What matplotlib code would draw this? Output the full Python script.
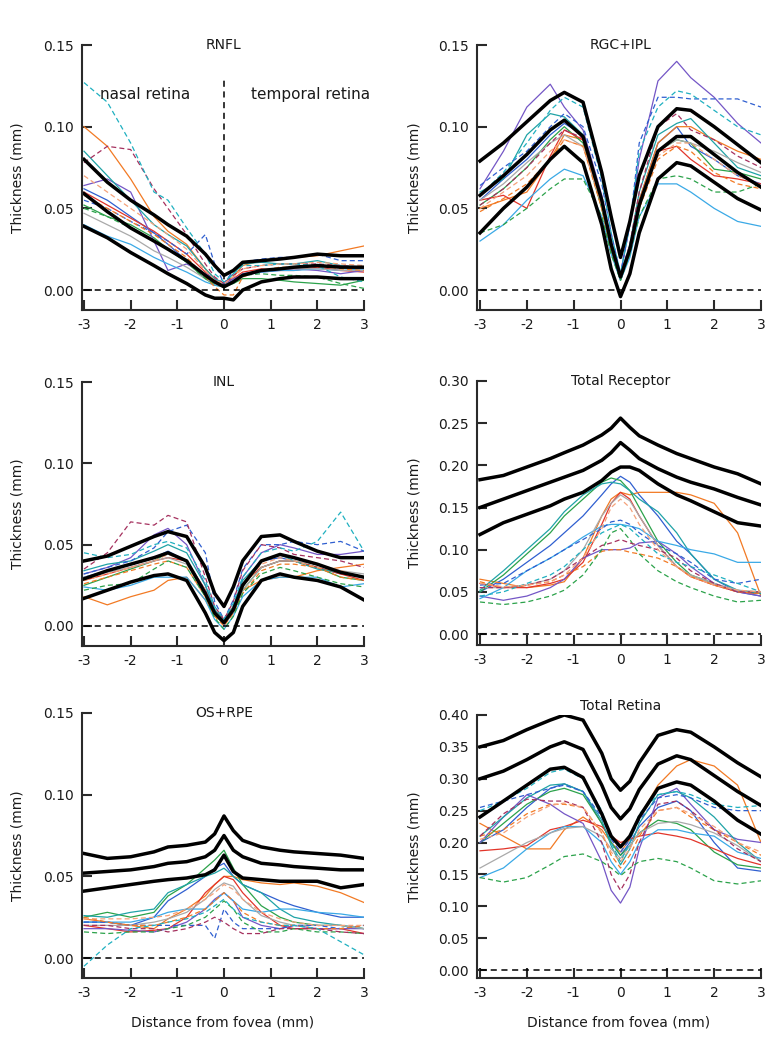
import matplotlib
matplotlib.use('Agg')
import matplotlib.pyplot as plt

plt.rcParams['font.family'] = ['DejaVu Sans']
plt.rcParams['axes.unicode_minus'] = False

# distance from fovea (mm), shared sample points
X = [-3, -2.5, -2, -1.5, -1.2, -0.8, -0.4, -0.2, 0, 0.2, 0.4, 0.8, 1.2, 1.5, 2, 2.5, 3]

# subject line styles (colour, dashed?)
subj_colors = ['#2f5fd0', '#f27a24', '#2ba24a', '#e2352a', '#7456c6', '#1fa3a6', '#3aa9e6', '#a9a9a9',
               '#2f5fd0', '#f27a24', '#2ba24a', '#a5305e', '#1fb0c0', '#f5a27a']
subj_dashed = [False] * 8 + [True] * 6

# ---- RNFL
rnfl_upper = [0.080, 0.066, 0.055, 0.046, 0.040, 0.033, 0.022, 0.015, 0.009, 0.012, 0.017, 0.018, 0.019, 0.020, 0.022, 0.021, 0.021]
rnfl_mean = [0.059, 0.048, 0.038, 0.030, 0.025, 0.018, 0.009, 0.005, 0.002, 0.005, 0.009, 0.012, 0.013, 0.014, 0.015, 0.014, 0.014]
rnfl_lower = [0.039, 0.032, 0.023, 0.015, 0.010, 0.004, -0.003, -0.005, -0.005, -0.006, 0.000, 0.005, 0.007, 0.008, 0.008, 0.007, 0.007]
rnfl_subj = [
    [0.062, 0.055, 0.045, 0.035, 0.028, 0.018, 0.009, 0.005, 0.003, 0.006, 0.010, 0.012, 0.013, 0.014, 0.015, 0.014, 0.013],
    [0.100, 0.088, 0.068, 0.045, 0.036, 0.028, 0.013, 0.007, 0.004, 0.008, 0.015, 0.018, 0.019, 0.020, 0.021, 0.024, 0.027],
    [0.052, 0.045, 0.040, 0.032, 0.025, 0.017, 0.007, 0.003, 0.002, 0.004, 0.007, 0.007, 0.006, 0.005, 0.004, 0.003, 0.006],
    [0.060, 0.052, 0.044, 0.036, 0.030, 0.022, 0.011, 0.006, 0.004, 0.007, 0.011, 0.013, 0.012, 0.012, 0.014, 0.012, 0.011],
    [0.064, 0.068, 0.060, 0.030, 0.012, 0.016, 0.010, 0.007, 0.004, 0.007, 0.009, 0.011, 0.012, 0.013, 0.012, 0.010, 0.012],
    [0.085, 0.070, 0.055, 0.040, 0.034, 0.027, 0.013, 0.007, 0.004, 0.010, 0.016, 0.017, 0.016, 0.016, 0.018, 0.015, 0.014],
    [0.040, 0.033, 0.028, 0.020, 0.016, 0.011, 0.005, 0.003, 0.002, 0.005, 0.009, 0.011, 0.012, 0.012, 0.013, 0.012, 0.013],
    [0.047, 0.040, 0.033, 0.024, 0.020, 0.014, 0.007, 0.004, 0.002, 0.005, 0.009, 0.012, 0.013, 0.013, 0.013, 0.012, 0.012],
    [0.055, 0.050, 0.042, 0.035, 0.030, 0.022, 0.034, 0.016, 0.004, 0.012, 0.017, 0.019, 0.020, 0.020, 0.022, 0.018, 0.018],
    [0.058, 0.050, 0.042, 0.034, 0.028, 0.020, 0.008, 0.002, -0.003, -0.003, 0.008, 0.012, 0.014, 0.014, 0.015, 0.013, 0.012],
    [0.050, 0.045, 0.038, 0.030, 0.025, 0.017, 0.007, 0.004, 0.003, 0.005, 0.009, 0.010, 0.009, 0.009, 0.008, 0.004, 0.001],
    [0.078, 0.088, 0.086, 0.062, 0.050, 0.034, 0.016, 0.008, 0.004, 0.009, 0.013, 0.015, 0.016, 0.016, 0.016, 0.015, 0.014],
    [0.127, 0.115, 0.090, 0.060, 0.055, 0.038, 0.022, 0.010, 0.005, 0.010, 0.015, 0.015, 0.016, 0.016, 0.015, 0.008, 0.005],
    [0.070, 0.060, 0.050, 0.040, 0.034, 0.025, 0.012, 0.006, 0.004, 0.008, 0.013, 0.015, 0.016, 0.016, 0.017, 0.016, 0.015],
]

# ---- RGC+IPL
rgc_upper = [0.079, 0.090, 0.103, 0.116, 0.121, 0.115, 0.072, 0.045, 0.020, 0.042, 0.070, 0.100, 0.111, 0.110, 0.100, 0.089, 0.078]
rgc_mean = [0.058, 0.070, 0.083, 0.098, 0.104, 0.094, 0.055, 0.028, 0.008, 0.025, 0.052, 0.085, 0.094, 0.094, 0.083, 0.072, 0.063]
rgc_lower = [0.035, 0.050, 0.063, 0.080, 0.088, 0.078, 0.040, 0.013, -0.004, 0.010, 0.035, 0.068, 0.078, 0.076, 0.066, 0.056, 0.049]
rgc_subj = [
    [0.055, 0.068, 0.080, 0.095, 0.102, 0.095, 0.055, 0.028, 0.008, 0.025, 0.055, 0.090, 0.100, 0.088, 0.080, 0.070, 0.065],
    [0.050, 0.055, 0.060, 0.080, 0.095, 0.092, 0.050, 0.025, 0.006, 0.025, 0.055, 0.090, 0.100, 0.100, 0.092, 0.085, 0.080],
    [0.052, 0.062, 0.075, 0.092, 0.100, 0.090, 0.050, 0.024, 0.006, 0.022, 0.050, 0.085, 0.092, 0.090, 0.074, 0.072, 0.068],
    [0.055, 0.058, 0.050, 0.082, 0.098, 0.092, 0.052, 0.026, 0.007, 0.024, 0.052, 0.085, 0.088, 0.080, 0.070, 0.068, 0.065],
    [0.062, 0.085, 0.112, 0.126, 0.112, 0.098, 0.058, 0.030, 0.010, 0.040, 0.080, 0.128, 0.140, 0.130, 0.118, 0.102, 0.090],
    [0.060, 0.068, 0.095, 0.108, 0.106, 0.095, 0.055, 0.028, 0.009, 0.028, 0.060, 0.095, 0.102, 0.105, 0.090, 0.075, 0.070],
    [0.030, 0.040, 0.055, 0.068, 0.074, 0.070, 0.045, 0.022, 0.006, 0.020, 0.045, 0.065, 0.065, 0.060, 0.050, 0.042, 0.039],
    [0.055, 0.065, 0.078, 0.090, 0.095, 0.088, 0.052, 0.026, 0.008, 0.024, 0.052, 0.085, 0.092, 0.090, 0.085, 0.078, 0.072],
    [0.064, 0.075, 0.085, 0.100, 0.108, 0.100, 0.065, 0.035, 0.010, 0.040, 0.090, 0.118, 0.118, 0.117, 0.117, 0.117, 0.112],
    [0.048, 0.056, 0.065, 0.080, 0.092, 0.088, 0.050, 0.025, 0.008, 0.024, 0.050, 0.080, 0.088, 0.085, 0.072, 0.065, 0.062],
    [0.035, 0.040, 0.050, 0.062, 0.068, 0.068, 0.045, 0.022, 0.006, 0.022, 0.045, 0.068, 0.070, 0.068, 0.060, 0.060, 0.065],
    [0.052, 0.062, 0.075, 0.090, 0.098, 0.093, 0.055, 0.028, 0.009, 0.028, 0.060, 0.100, 0.108, 0.098, 0.092, 0.082, 0.075],
    [0.058, 0.072, 0.090, 0.110, 0.118, 0.112, 0.068, 0.035, 0.010, 0.040, 0.085, 0.112, 0.122, 0.120, 0.110, 0.100, 0.095],
    [0.050, 0.060, 0.070, 0.085, 0.092, 0.088, 0.052, 0.026, 0.008, 0.025, 0.052, 0.082, 0.090, 0.090, 0.080, 0.070, 0.064],
]

# ---- INL
inl_upper = [0.040, 0.043, 0.049, 0.055, 0.058, 0.055, 0.036, 0.020, 0.012, 0.024, 0.040, 0.055, 0.056, 0.052, 0.046, 0.042, 0.042]
inl_mean = [0.029, 0.034, 0.038, 0.042, 0.045, 0.040, 0.020, 0.008, 0.002, 0.010, 0.025, 0.040, 0.044, 0.042, 0.038, 0.033, 0.030]
inl_lower = [0.017, 0.022, 0.027, 0.031, 0.032, 0.028, 0.008, -0.004, -0.009, -0.004, 0.012, 0.028, 0.032, 0.030, 0.028, 0.024, 0.016]
inl_subj = [
    [0.030, 0.034, 0.038, 0.042, 0.046, 0.040, 0.022, 0.008, 0.002, 0.010, 0.025, 0.040, 0.042, 0.040, 0.036, 0.032, 0.030],
    [0.018, 0.013, 0.018, 0.022, 0.028, 0.030, 0.016, 0.006, 0.003, 0.010, 0.022, 0.028, 0.030, 0.030, 0.034, 0.036, 0.038],
    [0.025, 0.030, 0.035, 0.040, 0.045, 0.040, 0.020, 0.007, 0.001, 0.008, 0.022, 0.036, 0.040, 0.040, 0.036, 0.030, 0.028],
    [0.028, 0.032, 0.036, 0.040, 0.042, 0.040, 0.022, 0.010, 0.004, 0.012, 0.026, 0.036, 0.040, 0.040, 0.036, 0.032, 0.028],
    [0.032, 0.036, 0.042, 0.056, 0.060, 0.050, 0.025, 0.010, 0.000, 0.010, 0.030, 0.045, 0.050, 0.048, 0.044, 0.044, 0.046],
    [0.034, 0.038, 0.040, 0.046, 0.050, 0.045, 0.025, 0.010, 0.003, 0.012, 0.028, 0.040, 0.044, 0.040, 0.035, 0.033, 0.030],
    [0.024, 0.022, 0.025, 0.030, 0.030, 0.030, 0.016, 0.004, -0.002, 0.006, 0.018, 0.028, 0.030, 0.030, 0.030, 0.024, 0.026],
    [0.030, 0.033, 0.036, 0.040, 0.042, 0.038, 0.020, 0.007, 0.001, 0.008, 0.022, 0.036, 0.040, 0.040, 0.038, 0.034, 0.032],
    [0.032, 0.036, 0.040, 0.048, 0.058, 0.062, 0.045, 0.015, 0.004, 0.016, 0.035, 0.050, 0.050, 0.052, 0.050, 0.052, 0.046],
    [0.026, 0.030, 0.034, 0.038, 0.040, 0.036, 0.018, 0.006, 0.000, 0.008, 0.020, 0.034, 0.038, 0.038, 0.036, 0.030, 0.028],
    [0.022, 0.025, 0.026, 0.035, 0.040, 0.036, 0.018, 0.005, -0.002, 0.006, 0.020, 0.032, 0.036, 0.034, 0.030, 0.026, 0.024],
    [0.035, 0.045, 0.064, 0.062, 0.068, 0.064, 0.030, 0.012, 0.004, 0.015, 0.034, 0.050, 0.048, 0.044, 0.042, 0.040, 0.036],
    [0.045, 0.042, 0.044, 0.050, 0.052, 0.048, 0.028, 0.012, 0.004, 0.014, 0.030, 0.045, 0.048, 0.046, 0.052, 0.070, 0.046],
    [0.028, 0.032, 0.036, 0.040, 0.044, 0.040, 0.022, 0.008, 0.002, 0.010, 0.024, 0.038, 0.042, 0.040, 0.036, 0.034, 0.030],
]

# ---- Total Receptor
rec_upper = [0.183, 0.188, 0.198, 0.208, 0.215, 0.224, 0.236, 0.244, 0.256, 0.245, 0.235, 0.224, 0.214, 0.208, 0.198, 0.190, 0.178]
rec_mean = [0.150, 0.160, 0.170, 0.180, 0.186, 0.194, 0.206, 0.215, 0.227, 0.218, 0.208, 0.196, 0.186, 0.180, 0.172, 0.162, 0.153]
rec_lower = [0.118, 0.132, 0.142, 0.152, 0.160, 0.168, 0.182, 0.192, 0.198, 0.198, 0.194, 0.178, 0.165, 0.158, 0.145, 0.132, 0.128]
rec_subj = [
    [0.050, 0.065, 0.085, 0.105, 0.120, 0.140, 0.165, 0.178, 0.187, 0.180, 0.165, 0.140, 0.110, 0.095, 0.065, 0.050, 0.045],
    [0.065, 0.060, 0.055, 0.058, 0.062, 0.090, 0.140, 0.160, 0.168, 0.165, 0.168, 0.168, 0.168, 0.165, 0.155, 0.120, 0.045],
    [0.050, 0.070, 0.095, 0.120, 0.140, 0.160, 0.180, 0.185, 0.182, 0.170, 0.150, 0.110, 0.085, 0.070, 0.060, 0.050, 0.048],
    [0.060, 0.055, 0.055, 0.060, 0.065, 0.085, 0.130, 0.155, 0.168, 0.160, 0.140, 0.105, 0.080, 0.068, 0.058, 0.050, 0.048],
    [0.045, 0.040, 0.045, 0.055, 0.065, 0.090, 0.100, 0.100, 0.100, 0.102, 0.108, 0.110, 0.095, 0.080, 0.060, 0.050, 0.045],
    [0.052, 0.075, 0.100, 0.125, 0.145, 0.165, 0.178, 0.180, 0.178, 0.170, 0.160, 0.145, 0.120, 0.095, 0.065, 0.052, 0.048],
    [0.042, 0.055, 0.075, 0.090, 0.100, 0.115, 0.128, 0.130, 0.130, 0.128, 0.125, 0.110, 0.105, 0.100, 0.095, 0.085, 0.085],
    [0.055, 0.055, 0.058, 0.065, 0.075, 0.100, 0.140, 0.155, 0.165, 0.158, 0.140, 0.105, 0.080, 0.070, 0.060, 0.052, 0.050],
    [0.058, 0.060, 0.075, 0.090, 0.100, 0.112, 0.125, 0.133, 0.135, 0.130, 0.120, 0.105, 0.095, 0.085, 0.065, 0.060, 0.065],
    [0.062, 0.055, 0.058, 0.062, 0.070, 0.080, 0.098, 0.100, 0.100, 0.097, 0.095, 0.090, 0.080, 0.068, 0.058, 0.050, 0.048],
    [0.038, 0.035, 0.038, 0.045, 0.052, 0.070, 0.100, 0.120, 0.125, 0.112, 0.095, 0.075, 0.062, 0.055, 0.045, 0.038, 0.040],
    [0.055, 0.055, 0.058, 0.065, 0.075, 0.090, 0.105, 0.108, 0.112, 0.108, 0.105, 0.100, 0.090, 0.075, 0.060, 0.050, 0.050],
    [0.045, 0.050, 0.060, 0.070, 0.080, 0.100, 0.120, 0.125, 0.130, 0.125, 0.115, 0.095, 0.085, 0.080, 0.070, 0.060, 0.050],
    [0.060, 0.056, 0.058, 0.062, 0.070, 0.090, 0.125, 0.150, 0.160, 0.150, 0.130, 0.100, 0.080, 0.068, 0.058, 0.052, 0.050],
]

# ---- OS+RPE
os_upper = [0.064, 0.061, 0.062, 0.065, 0.068, 0.069, 0.071, 0.076, 0.087, 0.078, 0.072, 0.068, 0.066, 0.065, 0.064, 0.063, 0.061]
os_mean = [0.052, 0.053, 0.054, 0.056, 0.058, 0.059, 0.062, 0.066, 0.075, 0.066, 0.062, 0.058, 0.057, 0.056, 0.055, 0.054, 0.054]
os_lower = [0.041, 0.043, 0.045, 0.047, 0.048, 0.049, 0.051, 0.054, 0.063, 0.053, 0.049, 0.048, 0.047, 0.047, 0.047, 0.043, 0.045]
os_subj = [
    [0.022, 0.022, 0.020, 0.025, 0.035, 0.042, 0.050, 0.055, 0.058, 0.050, 0.045, 0.040, 0.035, 0.032, 0.028, 0.025, 0.025],
    [0.024, 0.022, 0.020, 0.018, 0.024, 0.030, 0.038, 0.045, 0.050, 0.050, 0.048, 0.046, 0.045, 0.046, 0.044, 0.040, 0.034],
    [0.025, 0.028, 0.025, 0.028, 0.038, 0.045, 0.055, 0.060, 0.066, 0.055, 0.045, 0.032, 0.025, 0.022, 0.020, 0.020, 0.018],
    [0.020, 0.018, 0.016, 0.017, 0.018, 0.025, 0.040, 0.045, 0.050, 0.048, 0.040, 0.028, 0.020, 0.018, 0.018, 0.018, 0.015],
    [0.018, 0.018, 0.017, 0.016, 0.018, 0.022, 0.030, 0.036, 0.040, 0.035, 0.025, 0.020, 0.018, 0.020, 0.018, 0.018, 0.018],
    [0.026, 0.025, 0.028, 0.030, 0.040, 0.045, 0.050, 0.052, 0.055, 0.050, 0.045, 0.040, 0.030, 0.025, 0.022, 0.020, 0.018],
    [0.022, 0.022, 0.022, 0.025, 0.028, 0.030, 0.030, 0.035, 0.040, 0.035, 0.030, 0.028, 0.030, 0.030, 0.028, 0.027, 0.025],
    [0.020, 0.020, 0.020, 0.022, 0.024, 0.028, 0.036, 0.042, 0.046, 0.044, 0.036, 0.026, 0.022, 0.020, 0.020, 0.020, 0.018],
    [0.022, 0.022, 0.020, 0.020, 0.020, 0.020, 0.020, 0.012, 0.030, 0.022, 0.018, 0.018, 0.018, 0.020, 0.020, 0.018, 0.020],
    [0.025, 0.022, 0.020, 0.020, 0.022, 0.025, 0.030, 0.035, 0.040, 0.035, 0.028, 0.022, 0.020, 0.020, 0.018, 0.018, 0.020],
    [0.016, 0.015, 0.016, 0.016, 0.018, 0.020, 0.025, 0.030, 0.035, 0.030, 0.022, 0.016, 0.016, 0.018, 0.016, 0.016, 0.015],
    [0.020, 0.020, 0.018, 0.018, 0.016, 0.018, 0.022, 0.025, 0.022, 0.018, 0.015, 0.015, 0.018, 0.018, 0.018, 0.016, 0.015],
    [-0.005, 0.008, 0.018, 0.020, 0.022, 0.024, 0.028, 0.032, 0.036, 0.030, 0.025, 0.022, 0.020, 0.020, 0.018, 0.010, 0.002],
    [0.024, 0.024, 0.024, 0.025, 0.026, 0.030, 0.036, 0.040, 0.045, 0.042, 0.036, 0.028, 0.024, 0.022, 0.020, 0.020, 0.020],
]

# ---- Total Retina
ret_upper = [0.350, 0.360, 0.377, 0.392, 0.400, 0.392, 0.340, 0.300, 0.282, 0.296, 0.325, 0.368, 0.377, 0.373, 0.350, 0.325, 0.303]
ret_mean = [0.300, 0.312, 0.330, 0.350, 0.358, 0.346, 0.290, 0.255, 0.237, 0.253, 0.283, 0.323, 0.336, 0.330, 0.305, 0.280, 0.258]
ret_lower = [0.240, 0.265, 0.290, 0.315, 0.318, 0.302, 0.245, 0.210, 0.193, 0.210, 0.240, 0.285, 0.295, 0.290, 0.265, 0.235, 0.213]
ret_subj = [
    [0.200, 0.220, 0.255, 0.285, 0.292, 0.280, 0.230, 0.200, 0.180, 0.200, 0.225, 0.255, 0.265, 0.250, 0.200, 0.160, 0.155],
    [0.230, 0.210, 0.190, 0.190, 0.220, 0.240, 0.220, 0.200, 0.185, 0.205, 0.240, 0.290, 0.320, 0.330, 0.320, 0.290, 0.200],
    [0.200, 0.230, 0.260, 0.280, 0.285, 0.275, 0.230, 0.200, 0.180, 0.195, 0.215, 0.235, 0.230, 0.220, 0.185, 0.165, 0.160],
    [0.187, 0.190, 0.195, 0.220, 0.225, 0.235, 0.225, 0.210, 0.200, 0.205, 0.210, 0.215, 0.210, 0.205, 0.190, 0.175, 0.165],
    [0.200, 0.240, 0.275, 0.260, 0.245, 0.230, 0.170, 0.125, 0.105, 0.130, 0.190, 0.270, 0.285, 0.260, 0.220, 0.205, 0.200],
    [0.210, 0.240, 0.270, 0.290, 0.292, 0.280, 0.235, 0.195, 0.165, 0.190, 0.230, 0.275, 0.280, 0.270, 0.240, 0.200, 0.170],
    [0.145, 0.160, 0.190, 0.215, 0.225, 0.225, 0.200, 0.170, 0.150, 0.170, 0.200, 0.220, 0.220, 0.215, 0.210, 0.185, 0.175],
    [0.160, 0.180, 0.200, 0.215, 0.222, 0.225, 0.210, 0.190, 0.175, 0.195, 0.215, 0.230, 0.233, 0.228, 0.215, 0.195, 0.170],
    [0.255, 0.265, 0.275, 0.285, 0.290, 0.280, 0.240, 0.205, 0.185, 0.205, 0.235, 0.270, 0.275, 0.270, 0.255, 0.250, 0.250],
    [0.210, 0.220, 0.245, 0.260, 0.260, 0.255, 0.215, 0.180, 0.160, 0.180, 0.210, 0.250, 0.255, 0.240, 0.220, 0.200, 0.180],
    [0.145, 0.138, 0.145, 0.165, 0.178, 0.182, 0.170, 0.160, 0.148, 0.160, 0.170, 0.175, 0.170, 0.160, 0.140, 0.135, 0.140],
    [0.210, 0.245, 0.268, 0.265, 0.265, 0.255, 0.200, 0.150, 0.125, 0.150, 0.200, 0.260, 0.265, 0.250, 0.220, 0.190, 0.170],
    [0.250, 0.265, 0.285, 0.310, 0.315, 0.300, 0.250, 0.200, 0.170, 0.200, 0.245, 0.275, 0.280, 0.275, 0.260, 0.255, 0.258],
    [0.205, 0.215, 0.240, 0.258, 0.262, 0.255, 0.215, 0.185, 0.170, 0.190, 0.220, 0.250, 0.255, 0.245, 0.225, 0.200, 0.185],
]

titles = ['RNFL', 'RGC+IPL', 'INL', 'Total Receptor', 'OS+RPE', 'Total Retina']
subjects = [rnfl_subj, rgc_subj, inl_subj, rec_subj, os_subj, ret_subj]
bands = [(rnfl_upper, rnfl_mean, rnfl_lower), (rgc_upper, rgc_mean, rgc_lower),
         (inl_upper, inl_mean, inl_lower), (rec_upper, rec_mean, rec_lower),
         (os_upper, os_mean, os_lower), (ret_upper, ret_mean, ret_lower)]
ytops = [0.15, 0.15, 0.15, 0.30, 0.15, 0.40]
ybottoms = [-0.0122, -0.0122, -0.0123, -0.013, -0.0122, -0.0125]

W, H = 781, 1050
# axes boxes in pixels: left, right, top, bottom
boxes = [(82, 364, 45, 310), (477, 761, 45, 310),
         (82, 364, 382, 646), (477, 761, 381, 645),
         (82, 364, 713, 978), (477, 761, 715, 978)]

fig = plt.figure(figsize=(W / 100, H / 100), dpi=100)
ink = '#2a2a2a'

for i in range(6):
    l, r, t, b = boxes[i]
    ax = fig.add_axes([l / W, 1 - b / H, (r - l) / W, (b - t) / H])
    xmin = -3 - (84 - l) / 46.7 if l < 200 else -3 - (480 - l) / 46.7
    ax.set_xlim(xmin, 3)
    ax.set_ylim(ybottoms[i], ytops[i])

    for s in range(len(subjects[i])):
        ls = (0, (4, 2.5)) if subj_dashed[s] else '-'
        ax.plot(X, subjects[i][s], color=subj_colors[s], lw=0.9, ls=ls)
    ax.plot([-3, 3], [0, 0], color='black', lw=1.1, ls=(0, (4, 3)))
    for band in bands[i]:
        ax.plot(X, band, color='black', lw=2.5, solid_joinstyle='round')

    ax.spines['top'].set_visible(False)
    ax.spines['right'].set_visible(False)
    for sp in ('left', 'bottom'):
        ax.spines[sp].set_color(ink)
        ax.spines[sp].set_linewidth(1.5)
    ax.set_xticks([-3, -2, -1, 0, 1, 2, 3])
    ax.set_xticklabels(['-3', '-2', '-1', '0', '1', '2', '3'])
    step = 0.05
    nt = int(round(ytops[i] / step)) + 1
    yt = [k * step for k in range(nt)]
    ax.set_yticks(yt)
    ax.set_yticklabels(['%.2f' % v for v in yt])
    ax.tick_params(direction='in', length=7, width=1.5, color=ink, labelsize=10, labelcolor='#1a1a1a', pad=6)

    ty = 1.0 if i != 5 else 1.035
    ax.text(0, ty, titles[i], transform=ax.get_xaxis_transform(), ha='center', va='center', fontsize=10, color='#1a1a1a')

    xl = 18 if l < 200 else 415
    fig.text(xl / W, 1 - (t + b) / 2 / H, 'Thickness (mm)', rotation=90, ha='center', va='center', fontsize=10, color='#1a1a1a')

    if i == 0:
        ax.plot([0, 0], [0, 0.13], color='black', lw=1.1, ls=(0, (4, 3)))
        ax.text(-1.7, 0.120, 'nasal retina', ha='center', va='center', fontsize=11, color='#1a1a1a')
        ax.text(1.85, 0.120, 'temporal retina', ha='center', va='center', fontsize=11, color='#1a1a1a')
    if i >= 4:
        xc = 223 if l < 200 else 619
        fig.text(xc / W, 1 - 1023 / H, 'Distance from fovea (mm)', ha='center', va='center', fontsize=10, color='#1a1a1a')

fig.savefig('out.png', dpi=100)
